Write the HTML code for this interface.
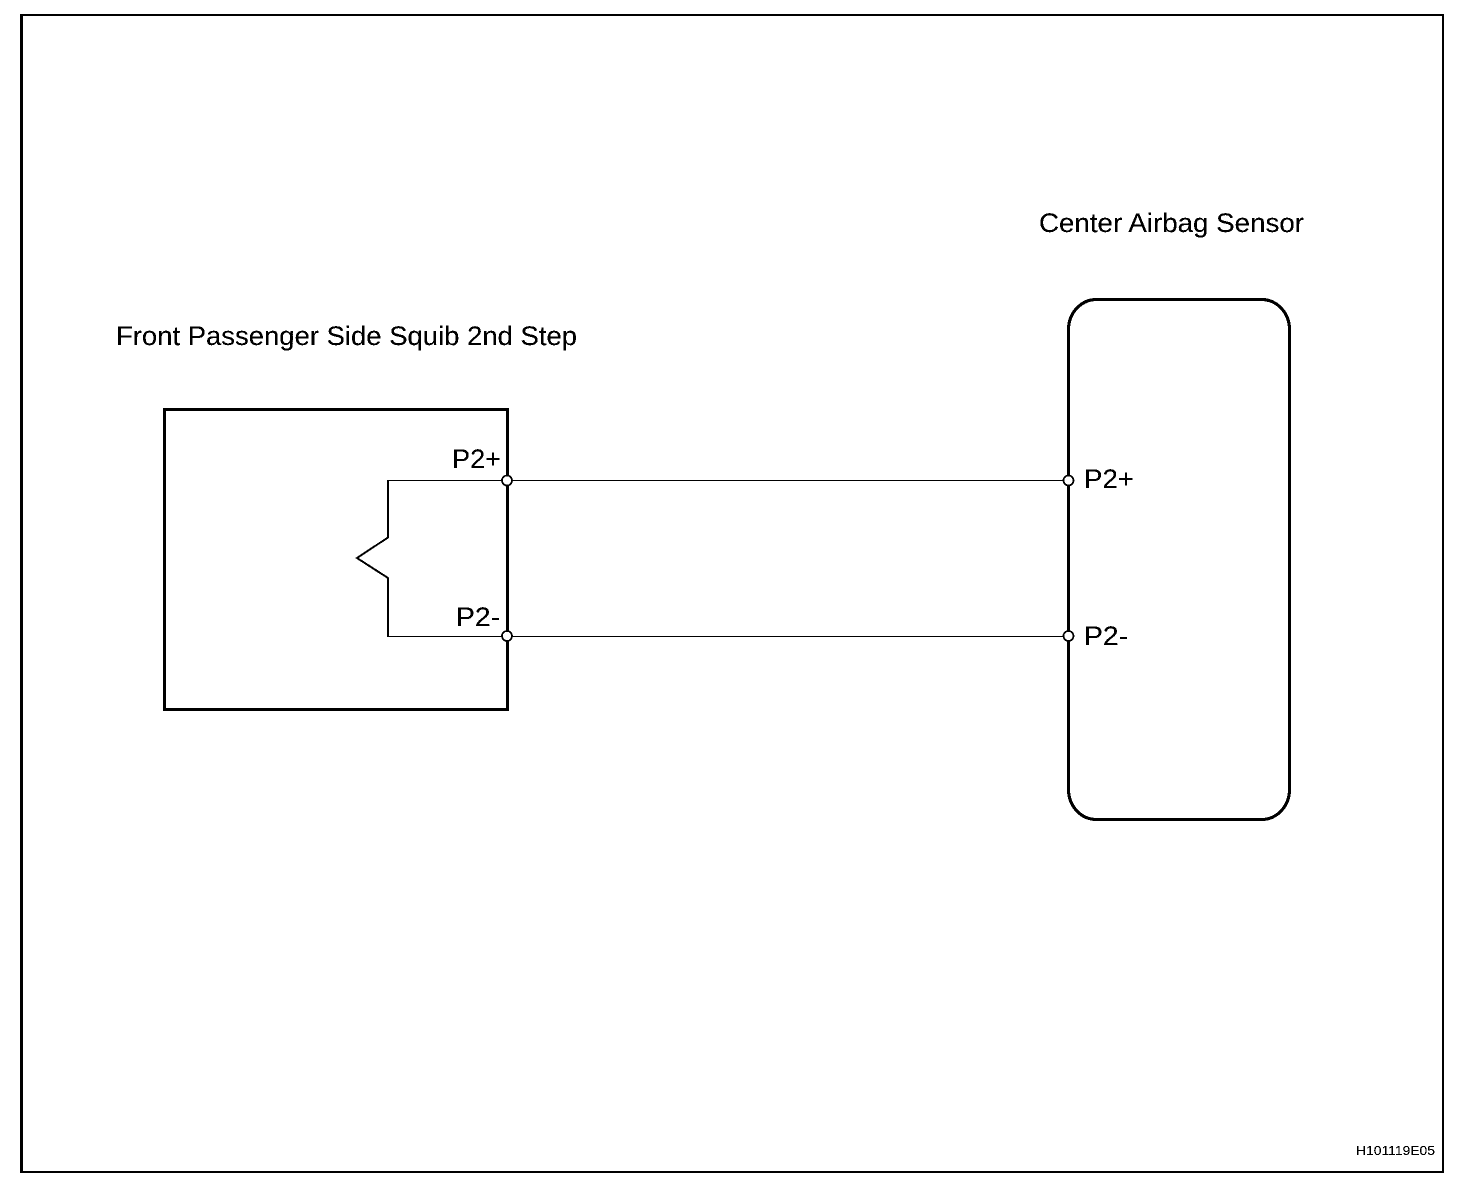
<!DOCTYPE html>
<html>
<head>
<meta charset="utf-8">
<style>
html,body{margin:0;padding:0;background:#fff;width:1472px;height:1178px;overflow:hidden}
svg{display:block}
text{font-family:"Liberation Sans",sans-serif;fill:#000}
</style>
</head>
<body>
<svg width="1472" height="1178" viewBox="0 0 1472 1178" xmlns="http://www.w3.org/2000/svg">
<defs>
<filter id="bw" filterUnits="userSpaceOnUse" x="0" y="0" width="1472" height="1178" color-interpolation-filters="sRGB">
<feComponentTransfer>
<feFuncR type="discrete" tableValues="0 0 1"/>
<feFuncG type="discrete" tableValues="0 0 1"/>
<feFuncB type="discrete" tableValues="0 0 1"/>
</feComponentTransfer>
</filter>
</defs>
<g filter="url(#bw)">
<rect width="1472" height="1178" fill="#fff"/>
<!-- outer frame -->
<rect x="20" y="14" width="1424" height="2" fill="#000"/>
<rect x="20" y="1171" width="1424" height="2" fill="#000"/>
<rect x="20" y="14" width="3" height="1159" fill="#000"/>
<rect x="1442" y="14" width="2" height="1159" fill="#000"/>
<!-- squib box -->
<rect x="164.5" y="409.5" width="343" height="300" fill="none" stroke="#000" stroke-width="3"/>
<!-- sensor box -->
<rect x="1068.5" y="299.5" width="221" height="520" rx="28" ry="30" fill="none" stroke="#000" stroke-width="3"/>
<!-- squib zigzag -->
<path d="M388 481V537.5L357 558L388 578V636" fill="none" stroke="#000" stroke-width="1.8"/>
<!-- wires -->
<rect x="387" y="480" width="120" height="1" fill="#000"/>
<rect x="387" y="636" width="120" height="1" fill="#000"/>
<rect x="507" y="480" width="561" height="1" fill="#000"/>
<rect x="507" y="636" width="561" height="1" fill="#000"/>
<!-- terminals -->
<circle cx="507" cy="480.5" r="5" fill="#fff" stroke="#000" stroke-width="1.6"/>
<circle cx="507" cy="636" r="5" fill="#fff" stroke="#000" stroke-width="1.6"/>
<circle cx="1068.5" cy="480.5" r="5" fill="#fff" stroke="#000" stroke-width="1.6"/>
<circle cx="1068.5" cy="636" r="5" fill="#fff" stroke="#000" stroke-width="1.6"/>
<!-- labels -->
<text x="1039" y="232" font-size="27" textLength="265" lengthAdjust="spacingAndGlyphs">Center Airbag Sensor</text>
<text x="116" y="345" font-size="27" textLength="461" lengthAdjust="spacingAndGlyphs">Front Passenger Side Squib 2nd Step</text>
<text x="452" y="468" font-size="27" textLength="49" lengthAdjust="spacingAndGlyphs">P2+</text>
<text x="456" y="626" font-size="27" textLength="44" lengthAdjust="spacingAndGlyphs">P2-</text>
<text x="1084" y="488" font-size="27" textLength="50" lengthAdjust="spacingAndGlyphs">P2+</text>
<text x="1084" y="645" font-size="27" textLength="44" lengthAdjust="spacingAndGlyphs">P2-</text>
<text x="1356" y="1155" font-size="13" textLength="79" lengthAdjust="spacingAndGlyphs">H101119E05</text>
</g>
</svg>
</body>
</html>
